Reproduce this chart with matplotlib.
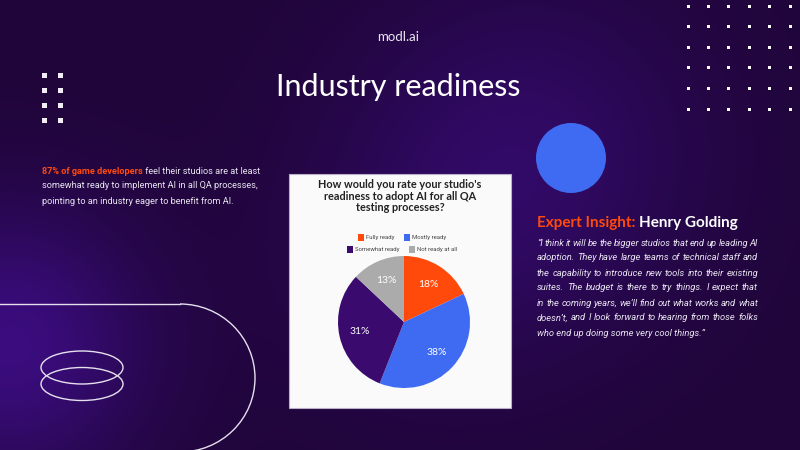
import numpy as np
import matplotlib
matplotlib.use("Agg")
import matplotlib.pyplot as plt
from matplotlib.patches import Rectangle, Circle, Ellipse, Arc

# ---------------- data ----------------
categories = ["Fully ready", "Mostly ready", "Somewhat ready", "Not ready at all"]
values = [18, 38, 31, 13]
colors = ["#FF4A0C", "#3E6BF1", "#3A0A6E", "#ABABAB"]
chart_title = "How would you rate your studio's\nreadiness to adopt AI for all QA\ntesting processes?"
page_title = "Industry readiness"
brand = "modl.ai"
stat_bold = "87% of game developers"
stat_lines = [" feel their studios are at least",
              "somewhat ready to implement AI in all QA processes,",
              "pointing to an industry eager to benefit from AI."]
insight_label = "Expert Insight: "
insight_name = "Henry Golding"
quote_lines = [
    "\u201cI think it will be the bigger studios that end up leading AI",
    "adoption. They have large teams of technical staff and",
    "the capability to introduce new tools into their existing",
    "suites. The budget is there to try things. I expect that",
    "in the coming years, we\u2019ll find out what works and what",
    "doesn\u2019t, and I look forward to hearing from those folks",
    "who end up doing some very cool things.\u201d",
]

W, H = 800, 450
fig = plt.figure(figsize=(8, 4.5), dpi=100)
ax = fig.add_axes([0, 0, 1, 1])
ax.set_xlim(0, W)
ax.set_ylim(H, 0)
ax.axis("off")

# ---------------- background ----------------
yy, xx = np.mgrid[0:H, 0:W]
base = np.array([0x20, 0x05, 0x3A]) / 255.0
glow = np.array([0x3C, 0x0D, 0x82]) / 255.0
w = np.zeros((H, W))
for gx, gy, r, s in [(10, 345, 95, 0.95), (535, 150, 120, 0.5), (430, 250, 110, 0.25)]:
    w += s * np.exp(-((xx - gx) ** 2 + (yy - gy) ** 2) / (2 * r ** 2))
w = np.clip(w, 0, 1)[..., None]
img = base * (1 - w) + glow * w
ax.imshow(img, extent=(0, W, H, 0), zorder=0, aspect="auto")

# dot grids
for i in range(6):
    for j in range(6):
        ax.add_patch(Rectangle((688 + 20.4 * i - 1.5, 6 + 20.6 * j - 1.5), 3, 3, color="white", lw=0, zorder=2))
for i in range(2):
    for j in range(4):
        ax.add_patch(Rectangle((44 + 16 * i - 2.5, 75 + 15.3 * j - 2.5), 5, 5, color="#F2EEF8", lw=0, zorder=2))

# line + arc decoration
ax.plot([0, 180], [304, 304], color="#E6E0EE", lw=1, zorder=2)
ax.add_patch(Arc((180, 378), 150, 148, theta1=-90, theta2=90, color="#E6E0EE", lw=1, zorder=2))
ax.add_patch(Ellipse((82, 367.5), 82, 33, fill=False, ec="#E6E0EE", lw=1, zorder=2))
ax.add_patch(Ellipse((82, 384), 82, 33, fill=False, ec="#E6E0EE", lw=1, zorder=2))

# blue circle
ax.add_patch(Circle((571, 158), 35, color="#3E6BF1", lw=0, zorder=2))

# titles
ax.text(398, 37, brand, color="#E8E4F0", fontsize=9.5, family="Lato", ha="center", va="center", zorder=3)
ax.text(398, 87, page_title, color="white", fontsize=22, family="Lato",
        ha="center", va="center", zorder=3)

# left statement
fs = 6.6
t1 = ax.text(42, 171, stat_bold, color="#FF4A0C", fontsize=fs, family="Roboto", fontweight="bold",
             ha="left", va="center", zorder=3)
ax.annotate(stat_lines[0], xy=(1, 0), xycoords=t1, ha="left", va="bottom", color="#E8E4F0",
            fontsize=fs, family="Roboto", zorder=3)
for k, line in enumerate(stat_lines[1:]):
    ax.text(42, 186 + 15 * k, line, color="#E8E4F0", fontsize=fs, family="Roboto",
            ha="left", va="center", zorder=3)

# card
ax.add_patch(Rectangle((289, 174), 222, 234, facecolor="#FAFAFA", edgecolor="#B9AFC8", lw=0.8, zorder=2))
ax.text(400, 196, chart_title, color="#222222", fontsize=7.8, family="Lato", fontweight="bold",
        ha="center", va="center", linespacing=1.1, zorder=3)

# legend (manual, two centred rows)
leg_pos = [(361, 237), (407, 237), (350, 249), (412, 249)]
for (lx, ly), lab, col in zip(leg_pos, categories, colors):
    ax.add_patch(Rectangle((lx - 3, ly - 3.5), 6, 7, color=col, lw=0, zorder=3))
    ax.text(lx + 5, ly, lab, color="#444444", fontsize=4.3, family="Roboto", ha="left", va="center", zorder=3)

# pie
cx, cy, r = 404, 322, 66
pax = fig.add_axes([(cx - r) / W, (H - cy - r) / H, 2 * r / W, 2 * r / H])
wedges, texts, autotexts = pax.pie(values, colors=colors, startangle=90, counterclock=False,
                                   autopct=lambda p: f"{p:.0f}%", pctdistance=0.68,
                                   wedgeprops=dict(linewidth=0),
                                   textprops=dict(color="white", fontsize=7.5, family="Lato"))
pax.set_xlim(-1, 1)
pax.set_ylim(-1, 1)
pax.axis("off")

# right insight
h1 = ax.text(537, 223, insight_label, color="#FF4A0C", fontsize=11, family="Lato", fontweight="bold",
             ha="left", va="center", zorder=3)
ax.annotate(insight_name, xy=(1, 0), xycoords=h1, ha="left", va="bottom", color="white",
            fontsize=11, family="Lato", fontweight="bold", zorder=3)

# justified italic quote
fig.canvas.draw()
renderer = fig.canvas.get_renderer()
x0, x1 = 537, 758
qprops = dict(color="#E8E4F0", fontsize=6.75, family="Roboto", style="italic", va="center", zorder=3)
for k, line in enumerate(quote_lines):
    y = 243 + 15 * k
    if k == len(quote_lines) - 1:
        ax.text(x0, y, line, ha="left", **qprops)
        continue
    words = line.split(" ")
    arts = [ax.text(0, y, wd, ha="left", **qprops) for wd in words]
    widths = []
    for a in arts:
        bb = a.get_window_extent(renderer)
        widths.append(bb.width * W / fig.bbox.width)
    gap = (x1 - x0 - sum(widths)) / (len(words) - 1)
    xpos = x0
    for a, wd in zip(arts, widths):
        a.set_x(xpos)
        xpos += wd + gap

fig.savefig("out.png", dpi=100)
